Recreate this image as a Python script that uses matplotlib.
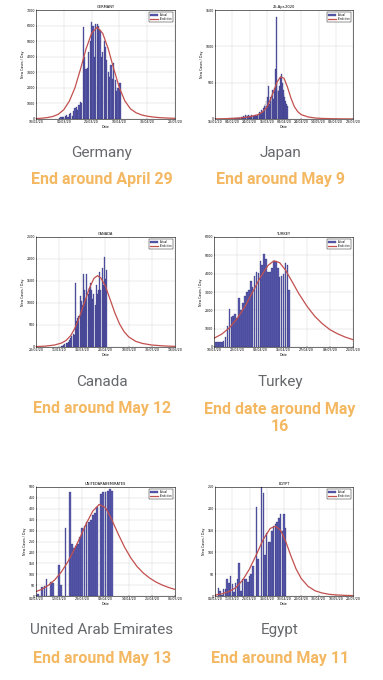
import matplotlib.pyplot as plt

# Daily new cases (bars) and fitted prediction curves for six countries

de_days = list(range(17, 62))
de_cases = [50, 100, 150, 120, 200, 250, 150, 300, 400, 200, 500, 700, 800, 600, 900,
            1100, 1000, 5900, 4000, 3200, 3300, 4300, 5000, 6200, 6000, 4000, 6100, 6100,
            6000, 5700, 4000, 4300, 5000, 4600, 3800, 3000, 2700, 3500, 2600, 3600, 2500,
            1800, 2000, 2300, 2300]
de_fit_days = [0, 4, 8, 12, 16, 20, 24, 28, 32, 36, 40, 44, 48, 52, 56, 60, 64, 68, 72,
               76, 80, 84, 88, 92, 96, 100]
de_fit = [30, 50, 90, 160, 300, 600, 1150, 2000, 3200, 4500, 5500, 5900, 5500, 4500,
          3200, 2000, 1150, 650, 400, 260, 180, 130, 95, 70, 55, 45]
de_ticks = ['10/02/20', '01/03/20', '21/03/20', '10/04/20', '30/04/20', '20/05/20']

jp_days = list(range(10, 85))
jp_cases = [0, 1, 0, 2, 3, 1, 5, 8, 4, 10, 12, 6, 9, 15, 10, 20, 14, 8, 18, 25, 12, 22,
            30, 45, 25, 55, 40, 50, 35, 60, 45, 30, 50, 55, 40, 35, 45, 60,
            40, 55, 70, 50, 90, 80, 120, 100, 150, 180, 200, 250, 180,
            300, 450, 200, 300, 250, 350, 400, 280, 420, 690, 1400, 500, 400, 380, 450,
            580, 620, 500, 400, 350, 300, 250, 200, 180]
jp_fit_days = [0, 10, 20, 30, 40, 50, 55, 60, 64, 68, 72, 76, 80, 84, 88, 92, 96, 100,
               108, 116, 124, 136, 148, 160]
jp_fit = [2, 4, 8, 15, 30, 60, 95, 160, 260, 380, 510, 580, 560, 440, 290, 170, 100, 60,
          28, 14, 8, 4, 2, 1]
jp_ticks = ['15/01/20', '04/02/20', '24/02/20', '15/03/20', '04/04/20', '24/04/20',
            '14/05/20', '03/06/20', '23/06/20']

ca_days = list(range(22, 62))
ca_cases = [20, 30, 40, 60, 80, 90, 120, 160, 200, 250, 300, 280, 1450, 600, 650, 700,
            1150, 1050, 950, 1650, 1300, 1100, 1650, 1200, 1350, 1450, 1300, 1100, 1200,
            950, 1400, 1200, 1300, 1700, 1300, 1800, 1400, 2050, 1550, 1750]
ca_fit_days = [0, 8, 16, 22, 26, 30, 34, 38, 42, 46, 50, 53, 56, 60, 64, 68, 72, 76, 80,
               86, 92, 100, 110, 120]
ca_fit = [10, 20, 45, 90, 150, 260, 450, 720, 1020, 1330, 1560, 1620, 1570, 1380, 1080,
          780, 530, 350, 230, 130, 80, 45, 25, 14]
ca_ticks = ['20/02/20', '11/03/20', '31/03/20', '20/04/20', '10/05/20', '30/05/20',
            '19/06/20']

tr_days = list(range(1, 40))
tr_cases = [300, 250, 280, 300, 350, 550, 1150, 2050, 1650, 1700, 1800, 1600, 2700, 2000,
            2400, 2800, 3000, 3100, 3600, 3300, 3900, 4100, 4050, 4700, 4500, 5100, 4800,
            4100, 4100, 4300, 4700, 4700, 4300, 3800, 3900, 4000, 4600, 4500, 3100]
tr_fit_days = [0, 4, 8, 12, 16, 20, 24, 28, 31, 34, 37, 40, 44, 48, 52, 56, 60, 64, 68, 72]
tr_fit = [480, 700, 1050, 1550, 2200, 3000, 3800, 4450, 4700, 4600, 4200, 3650, 2900,
          2250, 1700, 1280, 950, 720, 540, 400]
tr_ticks = ['10/03/20', '22/03/20', '03/04/20', '15/04/20', '27/04/20', '09/05/20',
            '21/05/20']

ae_days = list(range(1, 37))
ae_cases = [10, 0, 40, 45, 80, 0, 65, 60, 0, 0, 140, 50, 0, 310, 0, 475, 240, 220, 230,
            240, 270, 310, 320, 340, 340, 350, 370, 380, 410, 0, 470, 475, 478, 480, 490, 480]
ae_fit_days = [0, 3, 6, 9, 12, 15, 18, 21, 24, 27, 30, 33, 36, 39, 42, 45, 48, 51, 54, 57,
               60, 63, 66]
ae_fit = [20, 32, 50, 75, 110, 155, 210, 270, 335, 390, 420, 405, 350, 285, 225, 175, 135,
          105, 82, 64, 50, 39, 30]
ae_ticks = ['01/03/20', '12/03/20', '23/03/20', '03/04/20', '14/04/20', '25/04/20',
            '06/05/20']

eg_days = list(range(2, 42))
eg_cases = [18, 12, 3, 15, 15, 38, 30, 45, 28, 10, 30, 38, 75, 12, 38, 40, 40, 32, 45, 50,
            68, 0, 205, 85, 0, 250, 237, 95, 145, 125, 125, 150, 160, 165, 170, 178, 188,
            148, 188, 157]
eg_fit_days = [0, 4, 8, 12, 16, 20, 24, 28, 32, 35, 38, 41, 44, 47, 50, 54, 58, 62, 66, 70,
               75, 80]
eg_fit = [2, 5, 10, 19, 36, 62, 95, 130, 155, 160, 151, 125, 92, 62, 40, 22, 12, 7, 4, 2.5,
          1.5, 1]
eg_ticks = ['01/03/20', '11/03/20', '21/03/20', '31/03/20', '10/04/20', '20/04/20',
            '30/04/20', '10/05/20', '20/05/20']

countries = ['Germany', 'Japan', 'Canada', 'Turkey', 'United Arab Emirates', 'Egypt']
titles = ['GERMANY', '25-Apr-2020', 'CANADA', 'TURKEY', 'UNITEDARABEMIRATES', 'EGYPT']
endings = ['End around April 29', 'End around May 9', 'End around May 12',
           'End date around May\n16', 'End around May 13', 'End around May 11']

W, H = 383, 680
fig = plt.figure(figsize=(W / 100, H / 100), dpi=100)
fig.patch.set_facecolor('white')

# panel boxes in pixels: left, right, top, bottom
boxes = [(36, 175, 10, 119), (215, 353, 10, 119),
         (36, 175, 237, 347), (214, 353, 237, 347),
         (36, 175, 487, 596), (215, 353, 487, 596)]
panels = [
    (de_days, de_cases, de_fit_days, de_fit, de_ticks, 100, 7000, 1000),
    (jp_days, jp_cases, jp_fit_days, jp_fit, jp_ticks, 160, 1500, 500),
    (ca_days, ca_cases, ca_fit_days, ca_fit, ca_ticks, 120, 2500, 500),
    (tr_days, tr_cases, tr_fit_days, tr_fit, tr_ticks, 72, 6000, 1000),
    (ae_days, ae_cases, ae_fit_days, ae_fit, ae_ticks, 66, 500, 50),
    (eg_days, eg_cases, eg_fit_days, eg_fit, eg_ticks, 80, 250, 50),
]
label_y = [153, 153, 382, 382, 630, 630]
end_y = [180, 180, 408, 418, 658, 658]

bar_color = '#5C5CB0'
fit_color = '#C2504E'
tiny = 2.3

for i, (days, cases, fdays, fit, ticks, xmax, ymax, ystep) in enumerate(panels):
    l, r, t, b = boxes[i]
    ax = fig.add_axes([l / W, 1 - b / H, (r - l) / W, (b - t) / H])
    bars = ax.bar(days, cases, width=0.85, color=bar_color, edgecolor='#2A2A72',
                  linewidth=0.2)
    line, = ax.plot(fdays, fit, color=fit_color, lw=0.9)
    ax.set_xlim(0, xmax)
    ax.set_ylim(0, ymax)
    n = len(ticks)
    ax.set_xticks([xmax * k / (n - 1) for k in range(n)])
    ax.set_xticklabels(ticks)
    ax.set_yticks(range(0, ymax + 1, ystep))
    ax.tick_params(labelsize=tiny, length=1, width=0.3, pad=0.8, direction='in')
    ax.grid(True, color='#d8d8d8', lw=0.35)
    ax.set_axisbelow(True)
    for s in ax.spines.values():
        s.set_linewidth(0.4)
    ax.set_xlabel('Date', fontsize=tiny, labelpad=0.6)
    ax.set_ylabel('New Cases / Day', fontsize=tiny, labelpad=1)
    ax.set_title(titles[i], fontsize=2.6, pad=1.2)
    leg = ax.legend([bars, line], ['Actual', 'Prediction'], loc='upper right',
                    fontsize=1.8, handlelength=3, borderpad=0.3, labelspacing=0.1,
                    framealpha=1, edgecolor='black', fancybox=False, borderaxespad=0.8)
    leg.get_frame().set_linewidth(0.3)

    cx = 102 if i % 2 == 0 else 280
    fig.text(cx / W, 1 - label_y[i] / H, countries[i], ha='center', va='center',
             fontsize=11, family='Roboto', weight='normal', color='#66686c')
    fig.text(cx / W, 1 - end_y[i] / H, endings[i], ha='center', va='center',
             fontsize=11.5, family='Roboto', weight='bold', color='#F4B862',
             linespacing=1.15)

fig.savefig('out.png', dpi=100, facecolor='white')
